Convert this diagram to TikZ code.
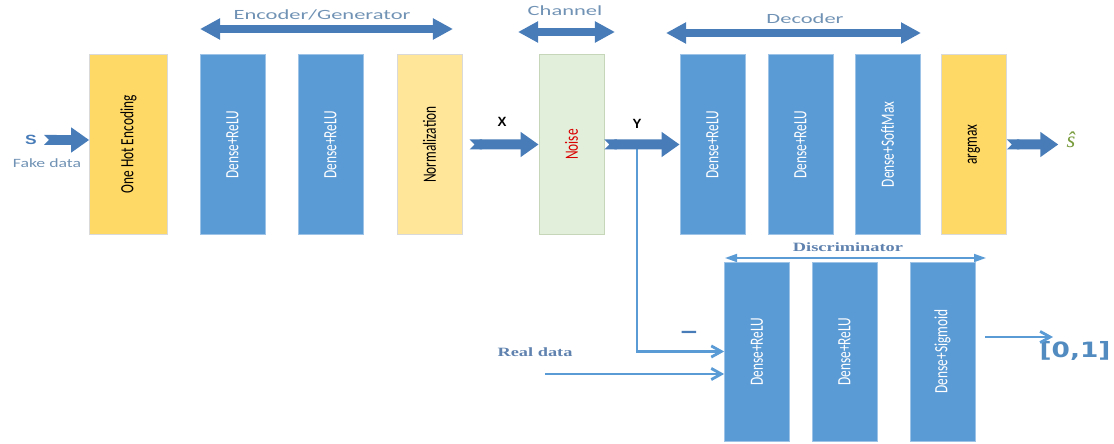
\documentclass[tikz,border=0pt]{standalone}
\usepackage{fontspec}
\setmainfont{Carlito}
\newfontfamily\boldserif{Liberation Serif}
\newfontfamily\widesans{DejaVu Sans}
\newfontfamily\arialsans{Liberation Sans}
\usetikzlibrary{arrows.meta, positioning, calc}
\definecolor{boxblue}{RGB}{91, 155, 213}
\definecolor{arrowblue}{RGB}{72, 124, 184}
\definecolor{hotyellow}{RGB}{255, 217, 102}
\definecolor{paleyellow}{RGB}{255, 230, 153}
\definecolor{noisegreen}{RGB}{226, 239, 218}
\definecolor{noiseedge}{RGB}{197, 214, 185}
\definecolor{spangray}{RGB}{112, 146, 180}
\definecolor{discgray}{RGB}{95, 130, 175}
\definecolor{hatgreen}{RGB}{120, 155, 60}
\tikzset{
  >=Stealth,
  blockarrow/.style={{Triangle Cap[reversed]}-{Triangle[length=4.5mm, width=6mm]}, line width=2.5mm, arrowblue},
  spanarrow/.style={{Triangle[length=5mm, width=5mm]}-{Triangle[length=5mm, width=5mm]}, line width=2mm, arrowblue},
  thinarrow/.style={-{Straight Barb[length=2.5mm, width=2.8mm]}, line width=2pt, boxblue},
  thinspan/.style={{Triangle[length=3mm, width=2mm]}-{Triangle[length=3mm, width=2mm]}, line width=1.2pt, boxblue}
}
\begin{document}
\begin{tikzpicture}[x=0.025cm, y=-0.025cm,
    layer/.style={rotate=90, yscale=1.4, minimum width=4.5cm, minimum height=1.16cm, inner sep=0pt, font=\fontsize{9.5}{11}\selectfont},
    densenode/.style={layer, fill=boxblue, draw=boxblue!60!white, text=white},
    hotnode/.style={layer, fill=hotyellow, draw=black!15, text=black},
    palenode/.style={layer, fill=paleyellow, draw=black!15, text=black},
    noisenode/.style={layer, fill=noisegreen, draw=noiseedge, text=red!85!black},
    spanlabel/.style={font=\fontsize{10}{12}\selectfont, text=spangray, xscale=1.6, inner sep=0pt},
    disclabel/.style={font=\boldserif\bfseries\fontsize{9}{11}\selectfont, text=discgray, xscale=1.45, inner sep=0pt},
    siglabel/.style={font=\arialsans\bfseries\fontsize{9.5}{11}\selectfont, inner sep=0pt}]

    \useasboundingbox (0,0) rectangle (1114,444);

    % rows
    \def\yRow{144.5}
    \def\yDisc{351.5}

    % Encoder / channel / decoder
    \node[hotnode, minimum height=1.39cm] (onehot) at (128.5,\yRow) {One Hot Encoding};
    \node[densenode] (enc1) at (232.5,\yRow) {Dense+ReLU};
    \node[densenode] (enc2) at (330.5,\yRow) {Dense+ReLU};
    \node[palenode] (norm) at (429.5,\yRow) {Normalization};
    \node[noisenode] (noise) at (571.5,\yRow) {Noise};
    \node[densenode] (dec1) at (712.5,\yRow) {Dense+ReLU};
    \node[densenode] (dec2) at (800.5,\yRow) {Dense+ReLU};
    \node[densenode] (dec3) at (887.5,\yRow) {Dense+SoftMax};
    \node[hotnode] (amax) at (974,\yRow) {argmax};

    % Discriminator
    \node[densenode, minimum width=4.475cm] (dis1) at (757,\yDisc) {Dense+ReLU};
    \node[densenode, minimum width=4.475cm] (dis2) at (844.5,\yDisc) {Dense+ReLU};
    \node[densenode, minimum width=4.475cm] (dis3) at (942.5,\yDisc) {Dense+Sigmoid};

    % Span labels
    \node[spanlabel] (enclab) at (322,15) {Encoder/Generator};
    \node[spanlabel] (chanlab) at (565,11) {Channel};
    \node[spanlabel] (declab) at (805,19) {Decoder};
    \node[disclabel] (dislab) at (848,247) {Discriminator};

    % Signal labels
    \node[siglabel, text=arrowblue, xscale=1.3] (slab) at (31,140) {S};
    \node[font=\fontsize{9}{11}\selectfont, text=spangray, xscale=1.4, inner sep=0pt] (fakelab) at (47,163) {Fake data};
    \node[siglabel] (xlab) at (502,122) {X};
    \node[siglabel] (ylab) at (637,124) {Y};
    \node[text=hatgreen, inner sep=0pt, font=\boldserif\itshape\fontsize{16}{16}\selectfont] (shat) at (1071,140) {ŝ};
    \node[disclabel] (reallab) at (535,352) {Real data};
    \node[font=\arialsans\bfseries\fontsize{16}{16}\selectfont, text=arrowblue, inner sep=0pt, xscale=1.3] (minus) at (689,335) {–};
    \node[font=\widesans\bfseries\fontsize{15}{16}\selectfont, text=boxblue!90!black, xscale=1.25, inner sep=0pt] (outlab) at (1075,351) {[0,1]};

    % Span arrows
    \coordinate (encL) at (200,29);
    \coordinate (encR) at (453,29);
    \coordinate (chanL) at (518,32);
    \coordinate (chanR) at (615,32);
    \coordinate (decL) at (666,33);
    \coordinate (decR) at (921,33);
    \coordinate (disL) at (725,258);
    \coordinate (disR) at (986,258);
    \draw[spanarrow] (encL) -- (encR);
    \draw[spanarrow] (chanL) -- (chanR);
    \draw[spanarrow] (decL) -- (decR);
    \draw[thinspan] (disL) -- (disR);

    % Discriminator inputs and output
    \coordinate (ytap) at (637,\yRow);
    \coordinate (realin) at (545,374);
    \coordinate (outend) at (1053,337);
    \draw[thinarrow] (ytap) |- (dis1);
    \draw[thinarrow] (realin) -- (realin -| dis1.north);
    \draw[thinarrow, shorten <=0.25cm] (dis3.south |- outend) -- (outend);

    % Main data path
    \coordinate (sstart) at (44,140);
    \draw[blockarrow] (sstart) -- (sstart -| onehot.north);
    \draw[blockarrow, shorten <=0.18cm] (norm) -- (noise);
    \draw[blockarrow] (noise) -- (dec1);
    \draw[blockarrow, shorten >=0.2cm] (amax) -- (amax -| shat.west);

\end{tikzpicture}
\end{document}
